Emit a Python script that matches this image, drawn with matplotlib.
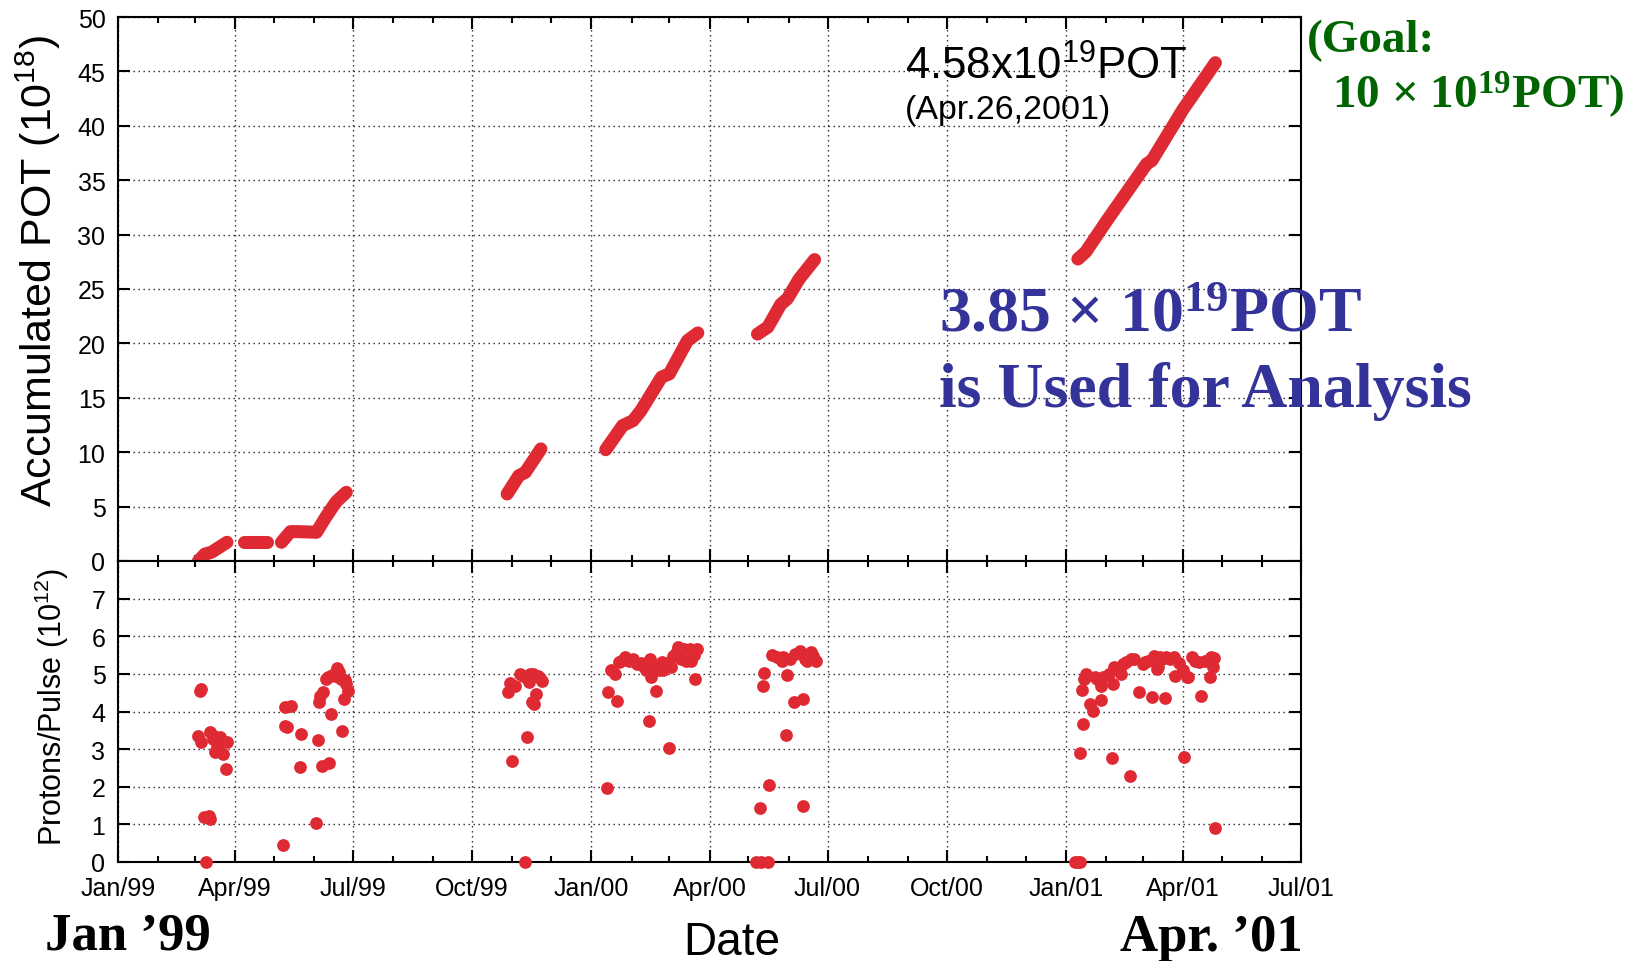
import numpy as np
import matplotlib
matplotlib.use("Agg")
import matplotlib.pyplot as plt
import matplotlib.dates as mdates

plt.rcParams['font.family'] = ['Liberation Sans', 'DejaVu Sans']
plt.rcParams['mathtext.default'] = 'regular'

# ---- accumulated protons on target (10^18), one id per beam period ----
pot_dates = ['1999-03-04', '1999-03-09', '1999-03-14', '1999-03-26',
             '1999-04-08', '1999-04-26',
             '1999-05-07', '1999-05-14', '1999-05-20', '1999-06-03', '1999-06-10',
             '1999-06-17', '1999-06-19', '1999-06-26',
             '1999-10-28', '1999-11-06', '1999-11-11', '1999-11-23',
             '2000-01-12', '2000-01-25', '2000-02-02', '2000-02-08', '2000-02-24',
             '2000-03-01', '2000-03-15', '2000-03-23',
             '2000-05-08', '2000-05-16', '2000-05-26', '2000-05-31', '2000-06-09',
             '2000-06-21',
             '2001-01-10', '2001-01-16', '2001-02-02', '2001-03-04', '2001-03-08',
             '2001-04-01', '2001-04-26']
pot_values = [0.0, 0.64, 0.8, 1.72,
              1.78, 1.78,
              1.72, 2.7, 2.7, 2.64, 4.0, 5.24, 5.54, 6.31,
              6.16, 7.84, 8.15, 10.3,
              10.23, 12.44, 12.9, 13.8, 16.9, 17.2, 20.25, 20.96,
              20.86, 21.5, 23.6, 24.1, 25.9, 27.7,
              27.76, 28.4, 31.4, 36.5, 36.8, 41.5, 45.8]
pot_period = [0, 0, 0, 0,
              1, 1,
              2, 2, 2, 2, 2, 2, 2, 2,
              3, 3, 3, 3,
              4, 4, 4, 4, 4, 4, 4, 4,
              5, 5, 5, 5, 5, 5,
              6, 6, 6, 6, 6, 6, 6]

# ---- protons per pulse (10^12), daily averages ----
ppp_dates = [
    # spring 1999
    '1999-03-05', '1999-03-06', '1999-03-04', '1999-03-06', '1999-03-10', '1999-03-08',
    '1999-03-12', '1999-03-13', '1999-03-13', '1999-03-15', '1999-03-16', '1999-03-17',
    '1999-03-18', '1999-03-19', '1999-03-20', '1999-03-21', '1999-03-22', '1999-03-23',
    '1999-03-25', '1999-03-26',
    '1999-05-08', '1999-05-10', '1999-05-11', '1999-05-10', '1999-05-14', '1999-05-22',
    '1999-05-21', '1999-06-03', '1999-06-04', '1999-06-05', '1999-06-06', '1999-06-08',
    '1999-06-07', '1999-06-13', '1999-06-14', '1999-06-10', '1999-06-12', '1999-06-15',
    '1999-06-17', '1999-06-19', '1999-06-20', '1999-06-22', '1999-06-23', '1999-06-24',
    '1999-06-25', '1999-06-26', '1999-06-27',
    # autumn 1999
    '1999-10-29', '1999-10-30', '1999-11-01', '1999-11-03', '1999-11-07', '1999-11-09',
    '1999-11-11', '1999-11-11', '1999-11-12', '1999-11-14', '1999-11-15', '1999-11-16',
    '1999-11-17', '1999-11-18', '1999-11-19', '1999-11-21', '1999-11-22', '1999-11-24',
    # winter 2000
    '2000-01-13', '2000-01-14', '2000-01-16', '2000-01-19', '2000-01-21', '2000-01-22',
    '2000-01-24', '2000-01-27', '2000-01-30', '2000-02-02', '2000-02-05', '2000-02-08',
    '2000-02-10', '2000-02-12', '2000-02-14', '2000-02-15', '2000-02-16', '2000-02-18',
    '2000-02-20', '2000-02-22', '2000-02-24', '2000-02-25', '2000-02-27', '2000-03-01',
    '2000-03-02', '2000-03-04', '2000-03-06', '2000-03-08', '2000-03-10', '2000-03-12',
    '2000-03-14', '2000-03-17', '2000-03-18', '2000-03-20', '2000-03-21', '2000-03-22',
    # spring 2000
    '2000-05-07', '2000-05-11', '2000-05-16', '2000-05-10', '2000-05-17', '2000-05-12',
    '2000-05-13', '2000-05-19', '2000-05-23', '2000-05-27', '2000-05-28', '2000-05-31',
    '2000-05-30', '2000-06-02', '2000-06-05', '2000-06-06', '2000-06-10', '2000-06-12',
    '2000-06-12', '2000-06-14', '2000-06-15', '2000-06-18', '2000-06-20', '2000-06-22',
    # winter/spring 2001
    '2001-01-08', '2001-01-10', '2001-01-12', '2001-01-12', '2001-01-14', '2001-01-13',
    '2001-01-15', '2001-01-16', '2001-01-16', '2001-01-19', '2001-01-22', '2001-01-23',
    '2001-01-25', '2001-01-28', '2001-01-28', '2001-01-29', '2001-02-03', '2001-02-05',
    '2001-02-06', '2001-02-07', '2001-02-08', '2001-02-12', '2001-02-14', '2001-02-16',
    '2001-02-19', '2001-02-20', '2001-02-22', '2001-02-26', '2001-03-01', '2001-03-03',
    '2001-03-05', '2001-03-08', '2001-03-10', '2001-03-12', '2001-03-13', '2001-03-14',
    '2001-03-16', '2001-03-18', '2001-03-19', '2001-03-22', '2001-03-25', '2001-03-26',
    '2001-03-29', '2001-04-01', '2001-04-02', '2001-04-04', '2001-04-05', '2001-04-08',
    '2001-04-10', '2001-04-13', '2001-04-15', '2001-04-18', '2001-04-22', '2001-04-23',
    '2001-04-24', '2001-04-25', '2001-04-26']
ppp_values = [
    4.55, 4.60, 3.36, 3.18, 0.00, 1.19,
    1.23, 1.14, 3.45, 3.27, 3.35, 2.92,
    3.05, 3.18, 3.10, 3.31, 3.20, 2.87,
    2.47, 3.18,
    0.45, 3.62, 3.58, 4.11, 4.15, 3.40,
    2.52, 1.04, 3.25, 4.24, 4.40, 4.51,
    2.54, 2.63, 3.93, 4.86, 4.93, 4.98,
    4.95, 5.15, 5.05, 4.86, 3.47, 4.33,
    4.85, 4.73, 4.55,
    4.51, 4.76, 2.68, 4.69, 5.00, 4.95,
    4.95, 0.00, 3.33, 4.78, 5.00, 4.26,
    5.00, 4.20, 4.47, 4.95, 4.90, 4.82,
    1.96, 4.53, 5.09, 5.00, 4.29, 5.31,
    5.35, 5.44, 5.35, 5.40, 5.26, 5.30,
    5.22, 5.10, 3.76, 5.40, 4.91, 5.20,
    4.55, 5.10, 5.31, 5.09, 5.30, 3.03,
    5.17, 5.48, 5.55, 5.71, 5.40, 5.66,
    5.35, 5.66, 5.35, 5.50, 4.86, 5.66,
    0.00, 0.00, 0.00, 1.43, 2.05, 4.69,
    5.01, 5.50, 5.44, 5.35, 5.44, 4.97,
    3.38, 5.40, 4.24, 5.53, 5.62, 4.33,
    1.48, 5.40, 5.35, 5.57, 5.48, 5.35,
    0.00, 0.00, 0.00, 2.90, 3.67, 4.58,
    4.86, 5.00, 4.95, 4.20, 4.02, 4.91,
    4.86, 4.31, 4.69, 4.91, 5.00, 2.76,
    4.73, 5.17, 5.13, 5.00, 5.26, 5.31,
    2.29, 5.40, 5.40, 4.53, 5.26, 5.31,
    5.35, 4.39, 5.48, 5.13, 5.17, 5.44,
    5.40, 4.35, 5.44, 5.40, 5.44, 4.95,
    5.30, 5.09, 2.80, 4.91, 4.91, 5.44,
    5.35, 5.31, 4.40, 5.35, 4.93, 5.44,
    5.17, 5.41, 0.91]

x_start, x_end = '1999-01-01', '2001-07-01'

RED = '#e02a33'
W, H = 1640, 962


def fx(px):
    return px / W


def fy(py):
    return 1 - py / H


def to_num(dates):
    return mdates.date2num(np.array(dates, dtype='datetime64[D]'))


fig = plt.figure(figsize=(W / 100, H / 100), dpi=100)
left, right = 118, 1301
ax1 = fig.add_axes([fx(left), fy(562), (right - left) / W, (562 - 18) / H])
ax2 = fig.add_axes([fx(left), fy(863), (right - left) / W, (863 - 562) / H], sharex=ax1)

# accumulated POT: each beam period drawn as a thick continuous trace
pd = to_num(pot_dates)
pv = np.array(pot_values)
pp = np.array(pot_period)
for k in np.unique(pp):
    m = pp == k
    ax1.plot(pd[m], pv[m], color=RED, lw=9.4, solid_capstyle='round',
             solid_joinstyle='round', zorder=3)

# protons per pulse
ax2.plot(to_num(ppp_dates), ppp_values, 'o', color=RED, ms=9.2, mec='none',
         zorder=3, clip_on=False)

ax1.set_ylim(0, 50)
ax1.set_yticks(np.arange(0, 51, 5))
ax2.set_ylim(0, 8)
ax2.set_yticks(np.arange(0, 8, 1))
ax2.set_xlim(to_num([x_start])[0], to_num([x_end])[0])

for ax in (ax1, ax2):
    ax.xaxis.set_major_locator(mdates.MonthLocator(bymonth=[1, 4, 7, 10]))
    ax.xaxis.set_minor_locator(mdates.MonthLocator())
    ax.xaxis.set_major_formatter(mdates.DateFormatter('%b/%y'))
    ax.tick_params(which='both', direction='in', top=True, right=True,
                   width=1.5, labelsize=18, pad=9)
    ax.tick_params(which='major', length=8.5)
    ax.tick_params(which='minor', length=4.5)
    ax.grid(True, which='major', linestyle=(0, (1, 2.6)), linewidth=1.0,
            color='#222222')
    ax.set_axisbelow(True)
    for s in ax.spines.values():
        s.set_linewidth(1.5)

ax1.tick_params(axis='x', labelbottom=False)
ax2.tick_params(axis='x', pad=10)

# axis titles
fig.text(fx(38), fy(271), 'Accumulated POT (10$^{18}$)', rotation=90,
         fontsize=31, ha='center', va='center')
fig.text(fx(52), fy(707), 'Protons/Pulse (10$^{12}$)', rotation=90,
         fontsize=22, ha='center', va='center')
fig.text(fx(732), fy(955), 'Date', fontsize=33, ha='center', va='baseline')

# annotations
fig.text(fx(905), fy(80), '4.58x10$^{19}$POT', fontsize=31.5, va='baseline')
fig.text(fx(905), fy(119), '(Apr.26,2001)', fontsize=24.5, va='baseline')

serif = ['Liberation Serif', 'DejaVu Serif']
fig.text(fx(939), fy(332), '3.85 × 10$^{19}$POT', family=serif, weight='bold',
         fontsize=46, color='#333399', va='baseline')
fig.text(fx(939), fy(407), 'is Used for Analysis', family=serif, weight='bold',
         fontsize=46, color='#333399', va='baseline')

fig.text(fx(1307), fy(52), '(Goal:', family=serif, weight='bold',
         fontsize=34, color='#006400', va='baseline')
fig.text(fx(1332), fy(108), '10 × 10$^{19}$POT)', family=serif, weight='bold',
         fontsize=34, color='#006400', va='baseline')

fig.text(fx(45), fy(950), 'Jan ’99', family=serif, weight='bold',
         fontsize=38, va='baseline')
fig.text(fx(1120), fy(951), 'Apr. ’01', family=serif, weight='bold',
         fontsize=38, va='baseline')

fig.savefig('out.png', dpi=100)
